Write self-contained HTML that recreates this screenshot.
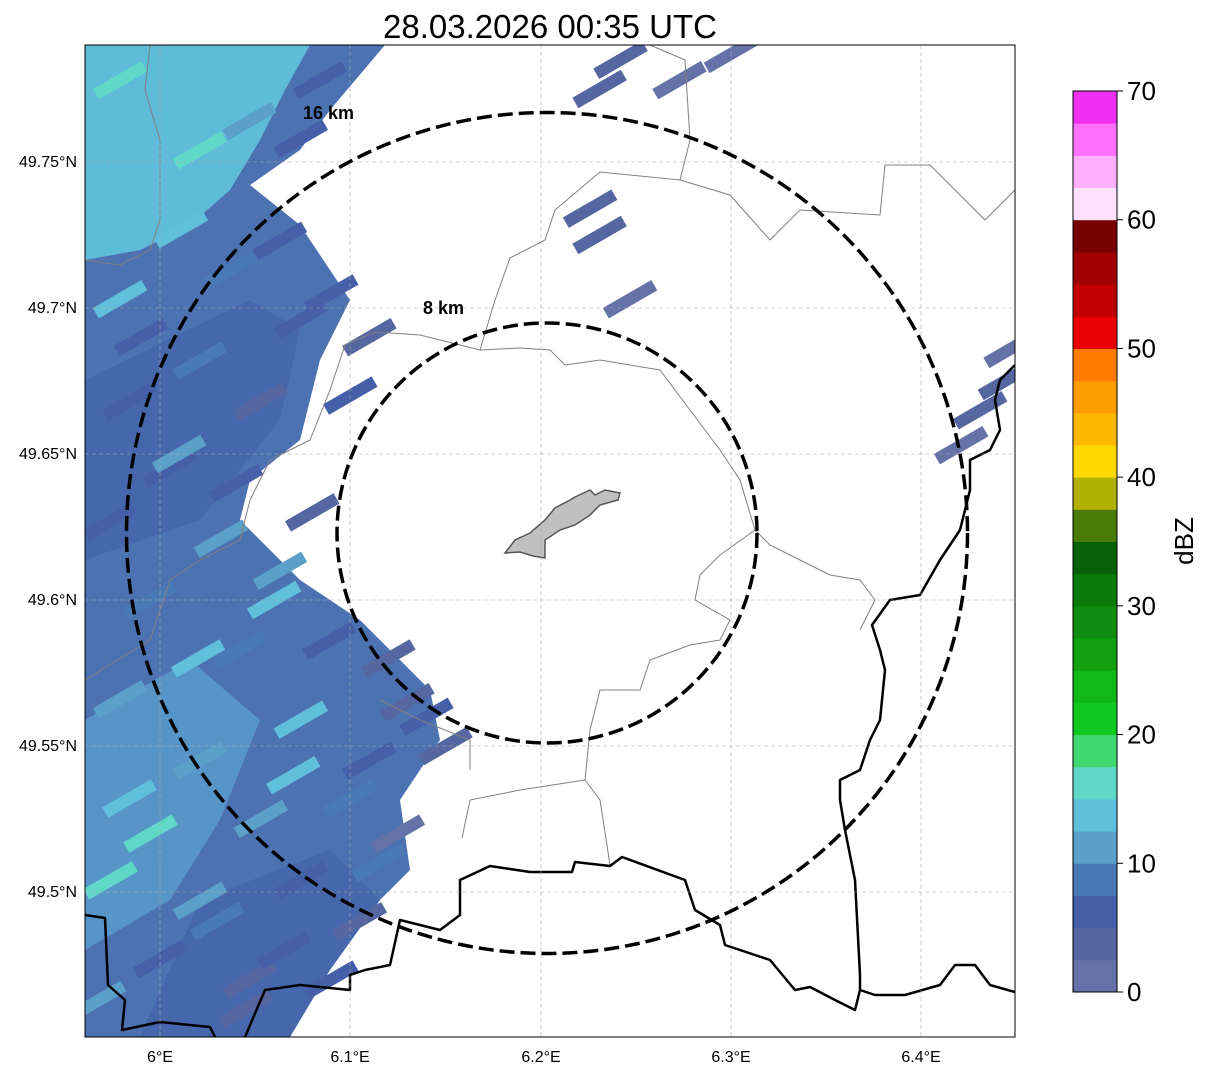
<!DOCTYPE html>
<html><head><meta charset="utf-8"><style>
body{margin:0;background:#fff;width:1207px;height:1073px;overflow:hidden;font-family:"Liberation Sans",sans-serif}
</style></head><body>
<svg width="1207" height="1073" xmlns="http://www.w3.org/2000/svg" font-family="Liberation Sans, sans-serif">
<defs><clipPath id="plot"><rect x="85" y="45" width="930" height="992"/></clipPath></defs>
<text x="550" y="38" font-size="33" text-anchor="middle">28.03.2026 00:35 UTC</text>
<g clip-path="url(#plot)">
 <path fill="#4d72b2" d="M85,45 L385,45 L330,110 L300,150 L250,185 L300,225 L350,300 L320,360 L300,440 L250,480 L240,520 L300,580 L360,620 L430,690 L440,740 L400,800 L410,870 L380,900 L330,970 L290,1037 L85,1037 Z"/>
 <path fill="#5fbcd8" d="M85,45 L310,45 L285,90 L260,140 L230,190 L190,225 L140,250 L85,260 Z"/>
 <path fill="#4460a8" opacity="0.6" d="M85,380 L250,300 L300,330 L280,420 L200,520 L85,560 Z"/>
 <path fill="#5a9ccc" opacity="0.8" d="M85,720 L190,660 L260,720 L220,820 L170,900 L85,950 Z"/>
 <path fill="#4460a8" opacity="0.6" d="M200,900 L330,850 L380,900 L330,970 L290,1037 L140,1037 Z"/>
 <g id="streaks"></g>
 <g fill="none" stroke="#808080" stroke-width="1">
  <polyline points="345,345 375,332 420,335 480,350 520,348 550,350 565,365 600,360 660,370 690,410 720,450 740,480 755,530 770,545 800,560 830,575 860,580 875,600 860,630"/>
  <polyline points="480,350 495,300 510,258 545,240 555,210 600,172 680,180 690,140 685,60 650,45"/>
  <polyline points="680,180 730,195 770,240 800,210 880,215 885,165 930,165 985,220 1015,190"/>
  <polyline points="755,530 720,555 700,575 695,600 730,620 720,640 690,645 650,660 640,690 600,690 590,730 585,780 600,800 610,865"/>
  <polyline points="585,780 520,790 470,800 462,838"/>
  <polyline points="345,345 330,390 310,440 270,460 250,500 240,540 200,560 170,580 150,640 85,680"/>
  <polyline points="150,45 145,90 160,140 160,220 150,250 120,265 85,260"/>
  <polyline points="380,700 420,720 470,740 470,770"/>
 </g>
 <g fill="none" stroke="#000" stroke-width="2.5" stroke-linejoin="round">
  <polyline points="85,915 105,918 108,985 125,1000 122,1030 160,1022 210,1027 215,1037"/>
  <polyline points="245,1037 265,990 300,985 350,990 350,975 365,970 390,965 400,920 440,930 460,915 460,880 490,866 530,872 572,872 575,862 610,866 622,857 685,880 695,910 720,925 725,945 770,960 795,990 810,987 835,1000 855,1010 860,990 875,995 905,995 940,985 955,965 975,965 990,985 1015,992"/>
  <polyline points="860,990 860,975 855,880 845,830 840,800 840,780 860,770 870,740 880,720 885,670 880,650 872,625 890,600 920,595 940,560 960,530 970,490 970,460 990,450 1000,430 995,400 1000,380 1015,365"/>
 </g>
 <path fill="#c0c0c0" stroke="#555" stroke-width="1.5" d="M505,553 L515,540 L530,533 L545,520 L555,508 L570,500 L575,497 L590,490 L595,495 L605,490 L620,493 L618,500 L600,505 L590,515 L575,525 L560,530 L545,540 L545,558 L533,556 L520,552 Z"/>
 <g stroke="#aaa" stroke-width="0.6" stroke-dasharray="4,3">
  <line x1="160" y1="45" x2="160" y2="1037"/><line x1="350" y1="45" x2="350" y2="1037"/><line x1="541" y1="45" x2="541" y2="1037"/><line x1="731" y1="45" x2="731" y2="1037"/><line x1="921" y1="45" x2="921" y2="1037"/>
  <line x1="85" y1="162" x2="1015" y2="162"/><line x1="85" y1="308" x2="1015" y2="308"/><line x1="85" y1="454" x2="1015" y2="454"/><line x1="85" y1="600" x2="1015" y2="600"/><line x1="85" y1="746" x2="1015" y2="746"/><line x1="85" y1="892" x2="1015" y2="892"/>
 </g>
 <circle cx="547" cy="533" r="210" fill="none" stroke="#000" stroke-width="3.5" stroke-dasharray="15,6"/>
 <circle cx="547" cy="533" r="420.5" fill="none" stroke="#000" stroke-width="3.5" stroke-dasharray="15,6"/>
 <text x="303" y="119" font-size="18" font-weight="bold">16 km</text>
 <text x="423" y="314" font-size="18" font-weight="bold">8 km</text>
</g>
<rect x="85" y="45" width="930" height="992" fill="none" stroke="#000" stroke-width="1"/>
<g font-size="16">
 <text x="160" y="1062" text-anchor="middle">6°E</text><text x="350" y="1062" text-anchor="middle">6.1°E</text><text x="541" y="1062" text-anchor="middle">6.2°E</text><text x="731" y="1062" text-anchor="middle">6.3°E</text><text x="921" y="1062" text-anchor="middle">6.4°E</text>
 <text x="77" y="167" text-anchor="end">49.75°N</text><text x="77" y="313" text-anchor="end">49.7°N</text><text x="77" y="459" text-anchor="end">49.65°N</text><text x="77" y="605" text-anchor="end">49.6°N</text><text x="77" y="751" text-anchor="end">49.55°N</text><text x="77" y="897" text-anchor="end">49.5°N</text>
</g>
<g id="colorbar"></g>
<text transform="translate(1193,541) rotate(-90)" font-size="26" text-anchor="middle">dBZ</text>
</svg>
<script>
const levelColors=["#6472a8","#5566a0","#4560a8","#4a7ab5","#5aa0c8","#60c0dc","#60d8c8","#40d870","#10c820","#10b818","#10a010","#108c10","#0a7a0a","#066006","#4a7a08","#b0b000","#ffd800","#ffb800","#ff9c00","#ff7c00","#e80000","#c00000","#a00000","#780000","#ffe0ff","#ffb0ff","#ff70ff","#f030f0"];
const cbTicks=[0,10,20,30,40,50,60,70];
const streakLon=[5.979,6.021,6.011,6.047,6.084,6.074,6.037,6.063,5.979,6.074,6.021,5.984,6.053,6.005,5.974,6.032,6.063,5.995,6.089,6.042,5.979,6.074,6.021,6.110,5.984,6.053,6.100,5.974,6.021,6.074,6.000,6.047,5.968,6.242,6.273,6.231,6.300,6.226,6.231,6.247,6.431,6.444,6.421,6.447,6.090,6.110,6.100,6.120,6.130,6.060,6.010,5.990,6.040,6.080,6.020,6.140,6.150,6.070,6.115,5.995,6.030,6.105,6.125,6.090,6.045,6.065];
const streakLat=[49.778,49.754,49.727,49.764,49.778,49.758,49.713,49.723,49.703,49.696,49.682,49.668,49.668,49.645,49.627,49.621,49.610,49.600,49.586,49.583,49.566,49.559,49.545,49.545,49.532,49.525,49.532,49.504,49.497,49.504,49.477,49.470,49.463,49.785,49.778,49.775,49.787,49.734,49.725,49.703,49.665,49.675,49.653,49.686,49.705,49.690,49.670,49.580,49.565,49.600,49.650,49.690,49.640,49.630,49.580,49.560,49.550,49.540,49.510,49.520,49.490,49.490,49.520,49.470,49.460,49.480];
const streakVal=[15,17,14,12,7,5,9,6,13,5,9,6,4,5,7,10,12,8,6,9,10,14,12,7,14,11,9,16,12,6,7,4,11,3,2,3,2,4,4,2,3,3,2,2,6,4,5,3,4,13,12,6,5,4,14,6,3,13,9,15,8,4,2,5,3,6];
const NS="http://www.w3.org/2000/svg";
const xS=lon=>160+(lon-6)*1903;
const yS=lat=>162-(lat-49.75)*2920;
const cy=v=>992-v*(901/70);
const colorFor=v=>levelColors[Math.min(levelColors.length-1,Math.floor(v/2.5))];
const sg=document.getElementById('streaks');
streakVal.forEach((v,i)=>{
 const r=document.createElementNS(NS,'rect');
 const x=xS(streakLon[i]),y=yS(streakLat[i]);
 r.setAttribute('x',x-28);r.setAttribute('y',y-6);r.setAttribute('width',56);r.setAttribute('height',12);
 r.setAttribute('fill',colorFor(v));
 r.setAttribute('transform','rotate(-30 '+x+' '+y+')');
 
 
 sg.appendChild(r);
});
const cb=document.getElementById('colorbar');
levelColors.forEach((c,i)=>{
 const r=document.createElementNS(NS,'rect');
 const y0=cy((i+1)*2.5),y1=cy(i*2.5);
 r.setAttribute('x',1073);r.setAttribute('y',y0);r.setAttribute('width',44);r.setAttribute('height',y1-y0+0.5);
 r.setAttribute('fill',c);
 
 
 cb.appendChild(r);
});
const fr=document.createElementNS(NS,'rect');
fr.setAttribute('x',1073);fr.setAttribute('y',cy(70));fr.setAttribute('width',44);fr.setAttribute('height',cy(0)-cy(70));
fr.setAttribute('fill','none');fr.setAttribute('stroke','#000');


cb.appendChild(fr);
cbTicks.forEach(t=>{
 const l=document.createElementNS(NS,'line');
 l.setAttribute('x1',1117);l.setAttribute('x2',1123);l.setAttribute('y1',cy(t));l.setAttribute('y2',cy(t));l.setAttribute('stroke','#000');
 
 
 cb.appendChild(l);
 const tx=document.createElementNS(NS,'text');
 tx.setAttribute('x',1127);tx.setAttribute('y',cy(t)+9);tx.setAttribute('font-size','26');
 tx.textContent=t;
 
 
 cb.appendChild(tx);
});
</script>
</body></html>
